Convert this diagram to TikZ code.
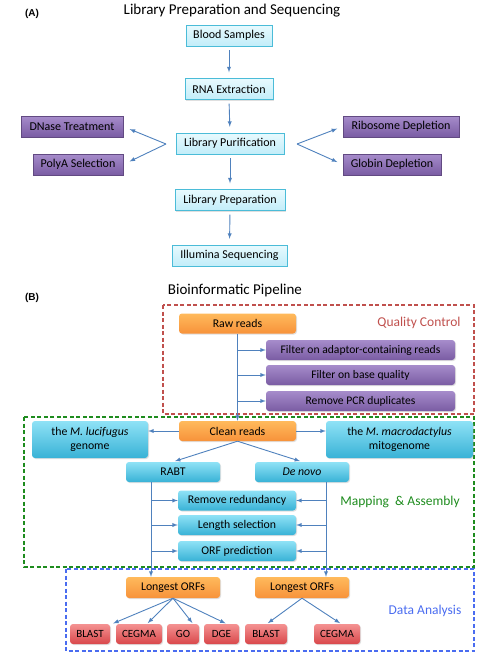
\documentclass[tikz,border=0pt]{standalone}
\usepackage{fontspec}
\setmainfont{Carlito}
\newfontfamily\panelfont{Liberation Sans}
\usetikzlibrary{calc,shadows}

\definecolor{fleche}{HTML}{4F81BD}
\definecolor{cyanbord}{HTML}{4BBCD8}
\definecolor{cyanhaut}{HTML}{E8FAFE}
\definecolor{cyanbas}{HTML}{C2EDF9}
\definecolor{violethaut}{HTML}{A68CCB}
\definecolor{violetbas}{HTML}{7A5CA3}
\definecolor{orangehaut}{HTML}{FFBA5C}
\definecolor{orangebas}{HTML}{F7923A}
\definecolor{bleuhaut}{HTML}{8FE2F6}
\definecolor{bleubas}{HTML}{38B2D6}
\definecolor{rougehaut}{HTML}{F49292}
\definecolor{rougebas}{HTML}{D9474A}
\definecolor{qcrouge}{HTML}{C0504D}
\definecolor{mavert}{HTML}{1E8C1E}
\definecolor{dableu}{HTML}{4A6CF0}

\begin{document}
\begin{tikzpicture}[x=1pt, y=-1pt]
  \tikzstyle{ombre}=[drop shadow={shadow xshift=1pt, shadow yshift=-1pt, opacity=0.25}];
  \tikzstyle{etape}=[rectangle, draw=cyanbord, top color=cyanhaut, bottom color=cyanbas, inner sep=0, minimum height=21pt, font=\fontsize{12}{14}\selectfont, ombre];
  \tikzstyle{option}=[rectangle, draw=violetbas!80!black, top color=violethaut, bottom color=violetbas, inner sep=0, minimum height=21pt, font=\fontsize{12}{14}\selectfont, ombre];
  \tikzstyle{lecture}=[rectangle, rounded corners=3pt, top color=orangehaut, bottom color=orangebas, inner sep=0, minimum height=20pt, font=\fontsize{11.8}{14}\selectfont, ombre];
  \tikzstyle{filtre}=[rectangle, rounded corners=3pt, top color=violethaut, bottom color=violetbas, inner sep=0, minimum height=20pt, font=\fontsize{11.6}{14}\selectfont, ombre];
  \tikzstyle{traitement}=[rectangle, rounded corners=3pt, top color=bleuhaut, bottom color=bleubas, inner sep=0, minimum height=20pt, font=\fontsize{11.8}{14}\selectfont, ombre];
  \tikzstyle{analyse}=[rectangle, rounded corners=3pt, top color=rougehaut, bottom color=rougebas, inner sep=0, minimum height=20pt, font=\fontsize{11}{13}\selectfont, ombre];
  \tikzstyle{fl}=[draw=fleche, line width=0.9pt, -latex];
  \tikzstyle{cadre}=[line width=1.3pt, dash pattern=on 4pt off 2.5pt];

  \useasboundingbox (0,0) rectangle (478,664);

  % (A) preparation
  \node[font=\panelfont\bfseries\fontsize{10}{12}\selectfont] (PA1) at (32,14) {(A)};
  \node[font=\fontsize{15}{17}\selectfont] (TA) at (232,11) {Library Preparation and Sequencing};

  \node[etape, minimum width=86pt] (BS) at (229,35.5) {Blood Samples};
  \node[etape, minimum width=88pt] (RNA) at (229,89) {RNA Extraction};
  \node[etape, minimum width=108pt] (LPu) at (230,143.5) {Library Purification};
  \node[etape, minimum width=110pt] (LPr) at (230,200) {Library Preparation};
  \node[etape, minimum width=115pt] (IS) at (229.5,255.5) {Illumina Sequencing};

  \node[option, minimum width=102pt] (DT) at (72,126.5) {DNase Treatment};
  \node[option, minimum width=90pt] (PS) at (78,164.5) {PolyA Selection};
  \node[option, minimum width=116pt] (RD) at (401,126.5) {Ribosome Depletion};
  \node[option, minimum width=98pt] (GD) at (392,164.5) {Globin Depletion};

  \foreach \S/\T in {BS/RNA, RNA/LPu, LPu/LPr, LPr/IS} {
    \draw[fl, shorten <=4pt, shorten >=6pt] (\S.south) -- (\T.north);
  }
  \coordinate (L) at (166,144);
  \coordinate (R) at (297,144);
  \foreach \S in {DT, PS} {
    \draw[fl, shorten >=7pt] (L) -- (\S.east);
  }
  \foreach \S in {RD, GD} {
    \draw[fl, shorten >=6pt] (R) -- (\S.west);
  }

  % (B) pipeline
  \node[font=\panelfont\bfseries\fontsize{10}{12}\selectfont] (PB) at (32,298) {(B)};
  \node[font=\fontsize{15}{17}\selectfont] (TB) at (235,290) {Bioinformatic Pipeline};

  \draw[cadre, qcrouge] (163,305) rectangle (474,414);
  \draw[cadre, mavert] (24,417) rectangle (474,567);
  \draw[cadre, dableu] (66,569) rectangle (474,651);

  \node[text=qcrouge, font=\fontsize{13.5}{15}\selectfont] (QC) at (419,323) {Quality Control};
  \node[text=mavert, font=\fontsize{13.5}{15}\selectfont] (MA) at (400,502) {Mapping ~\& Assembly};
  \node[text=dableu, font=\fontsize{13.5}{15}\selectfont] (DA) at (425,611) {Data Analysis};

  \node[lecture, minimum width=117pt] (RR) at (237.5,323.5) {Raw reads};
  \node[filtre, minimum width=189pt] (F1) at (360.5,350) {Filter on adaptor-containing reads};
  \node[filtre, minimum width=189pt] (F2) at (360.5,375) {Filter on base quality};
  \node[filtre, minimum width=189pt] (F3) at (360.5,401) {Remove PCR duplicates};
  \node[lecture, minimum width=117pt] (CR) at (237.5,431) {Clean reads};

  \node[traitement, minimum width=116pt, minimum height=37pt, align=center] (ML) at (90,439.5) {the \textit{M. lucifugus}\\genome};
  \node[traitement, minimum width=147pt, minimum height=37pt, align=center] (MM) at (399.5,439.5) {the \textit{M. macrodactylus}\\mitogenome};
  \node[traitement, minimum width=94pt] (RABT) at (173,472) {RABT};
  \node[traitement, minimum width=94pt] (DN) at (302,472) {\textit{De novo}};
  \node[traitement, minimum width=118pt] (RR1) at (237,500.5) {Remove redundancy};
  \node[traitement, minimum width=118pt] (LS) at (237,525) {Length selection};
  \node[traitement, minimum width=118pt] (OP) at (237,551) {ORF prediction};

  \node[lecture, minimum width=94pt, minimum height=21pt] (LO1) at (173,587.5) {Longest ORFs};
  \node[lecture, minimum width=94pt, minimum height=21pt] (LO2) at (302,587.5) {Longest ORFs};

  \node[analyse, minimum width=40pt] (B1) at (90,634) {BLAST};
  \node[analyse, minimum width=46pt] (C1) at (139,634) {CEGMA};
  \node[analyse, minimum width=32pt] (GO) at (183,634) {GO};
  \node[analyse, minimum width=35pt] (DGE) at (221.5,634) {DGE};
  \node[analyse, minimum width=42pt] (B2) at (266,634) {BLAST};
  \node[analyse, minimum width=46pt] (C2) at (337,634) {CEGMA};

  \draw[fl] (RR.south) -- (CR.north);
  \foreach \S in {F1, F2, F3} {
    \draw[fl] (RR.south |- \S.west) -- (\S.west);
  }
  \draw[fl] (CR.west) -- (CR.west -| ML.east);
  \draw[fl] (CR.east) -- (CR.east -| MM.west);
  \draw[fl, shorten >=2pt] (CR.south) -- (RABT.north);
  \draw[fl, shorten >=2pt] (CR.south) -- (DN.north);

  \coordinate (V1) at (151,0);
  \coordinate (V2) at (326,0);
  \draw[fl] (RABT.south -| V1) -- (LO1.north -| V1);
  \draw[fl] (DN.south -| V2) -- (LO2.north -| V2);
  \foreach \S in {RR1, LS, OP} {
    \draw[fl] (V1 |- \S.west) -- (\S.west);
    \draw[fl] (V2 |- \S.east) -- (\S.east);
  }

  \draw[fl, shorten >=1pt] (LO1.south) -- ($(B1.north east)+(2,0)$);
  \draw[fl, shorten >=1pt] (LO1.south) -- ($(C1.north)+(8,0)$);
  \draw[fl, shorten >=1pt] (LO1.south) -- ($(GO.north)+(10,0)$);
  \draw[fl, shorten >=1pt] (LO1.south) -- ($(DGE.north)+(5,0)$);
  \draw[fl, shorten >=1pt] (LO2.south) -- ($(B2.north)+(1,0)$);
  \draw[fl, shorten >=1pt] (LO2.south) -- ($(C2.north)+(4,0)$);
\end{tikzpicture}
\end{document}
